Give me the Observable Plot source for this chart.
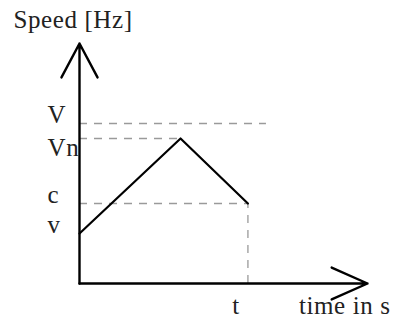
<!DOCTYPE html>
<html>
<head>
<meta charset="utf-8">
<script src="https://cdn.jsdelivr.net/npm/d3@7"></script>
<script src="https://cdn.jsdelivr.net/npm/@observablehq/plot@0.6"></script>
<style>
  html, body { margin: 0; padding: 0; background: #fff; }
  #chart svg text { letter-spacing: 0.6px; }
</style>
</head>
<body>
<div id="chart"></div>
<script>
// Speed profile (time in s, speed in Hz)
const times = [0, 6, 10];
const speeds = [5, 14.5, 8];

// Reference levels
const levelNames = ["V", "c", "v"];
const levelValues = [16, 8, 5];
const peakName = "Vn";
const peakValue = 14.5;
const endTime = 10;
const endName = "t";
const maxLineEnd = 11.1;   // end of the dashed V guide (time)

// Axis extents
const xMax = 17.1;
const yMax = 24;
const xLabel = "time in s";
const yLabel = "Speed [Hz]";

const profile = times.map((t, i) => ({t, s: speeds[i]}));
const levels = levelNames.map((n, i) => ({name: n, value: levelValues[i]}));

const serif = "Liberation Serif, Times New Roman, serif";
const dash = {stroke: "#9a9a9a", strokeWidth: 1.3, strokeDasharray: "8,7"};
const fs = 25;

const chart = Plot.plot({
  width: 393,
  height: 322,
  marginLeft: 79,
  marginRight: 26,
  marginTop: 43,
  marginBottom: 39,
  x: {domain: [0, xMax], axis: null},
  y: {domain: [0, yMax], axis: null},
  style: {fontFamily: serif, background: "#fff", overflow: "visible"},
  marks: [
    // dashed guides
    Plot.ruleY([levelValues[0]], {x1: 0, x2: maxLineEnd, ...dash}),
    Plot.ruleY([peakValue], {x1: 0, x2: times[1], ...dash}),
    Plot.ruleY([speeds[2]], {x1: 0, x2: endTime, ...dash}),
    Plot.ruleX([endTime], {y1: 0, y2: speeds[2], ...dash}),
    // axes with open arrow heads
    Plot.arrow([{x1: 0, y1: 0, x2: 0, y2: yMax}], {
      x1: "x1", y1: "y1", x2: "x2", y2: "y2",
      stroke: "black", strokeWidth: 2.4, headLength: 24, headAngle: 56
    }),
    Plot.arrow([{x1: 0, y1: 0, x2: xMax, y2: 0}], {
      x1: "x1", y1: "y1", x2: "x2", y2: "y2",
      stroke: "black", strokeWidth: 2.4, headLength: 24.5, headAngle: 48
    }),
    // speed profile
    Plot.line(profile, {x: "t", y: "s", stroke: "black", strokeWidth: 2.2}),
    // level labels
    Plot.text(levels, {
      x: () => 0, y: "value", text: "name",
      textAnchor: "start", lineAnchor: "bottom", dx: -32, dy: -1,
      fontSize: fs, fontFamily: serif, fill: "#222"
    }),
    Plot.text([peakName], {
      x: () => 0, y: () => peakValue, text: d => d,
      textAnchor: "start", lineAnchor: "bottom", dx: -32, dy: 17,
      fontSize: fs, fontFamily: serif, fill: "#222"
    }),
    Plot.text([endName], {
      x: () => endTime, y: () => 0, text: d => d,
      textAnchor: "middle", lineAnchor: "bottom", dx: -12, dy: 30,
      fontSize: fs, fontFamily: serif, fill: "#222"
    }),
    // axis titles
    Plot.text([xLabel], {
      x: () => xMax, y: () => 0, text: d => d,
      textAnchor: "end", lineAnchor: "bottom", dx: 23, dy: 30,
      fontSize: fs, fontFamily: serif, fill: "#222"
    }),
    Plot.text([yLabel], {
      x: () => 0, y: () => yMax, text: d => d,
      textAnchor: "start", lineAnchor: "bottom", dx: -66, dy: -16,
      fontSize: fs, fontFamily: serif, fill: "#222"
    })
  ]
});

document.getElementById("chart").appendChild(chart);
</script>
</body>
</html>
